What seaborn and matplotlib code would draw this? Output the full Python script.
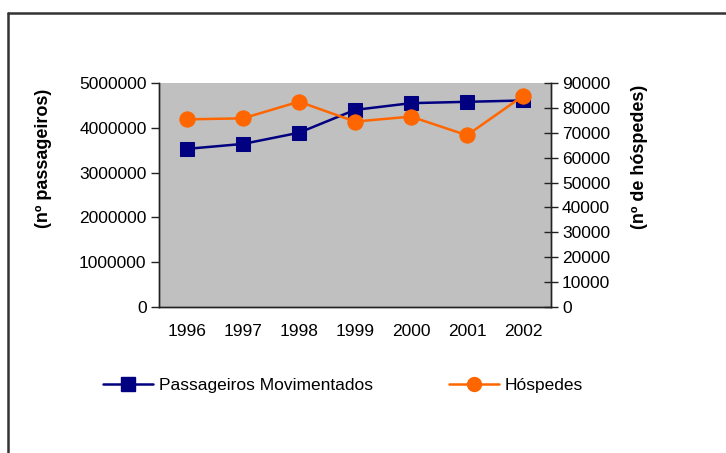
import numpy as np
import pandas as pd
import matplotlib
matplotlib.use('Agg')
import matplotlib.pyplot as plt
import seaborn as sns
from matplotlib.lines import Line2D

# dados
anos = ['1996', '1997', '1998', '1999', '2000', '2001', '2002']
passageiros = [3530000, 3640000, 3890000, 4400000, 4550000, 4580000, 4610000]
hospedes = [75400, 75800, 82500, 74500, 76500, 69000, 84800]

df = pd.DataFrame({'ano': anos, 'pos': np.arange(len(anos)),
                   'passageiros': passageiros, 'hospedes': hospedes})

sns.set_style('white')
plt.rcParams['font.family'] = ['Liberation Sans', 'DejaVu Sans']
plt.rcParams['text.color'] = 'black'
plt.rcParams['xtick.color'] = 'black'
plt.rcParams['ytick.color'] = 'black'
plt.rcParams['xtick.labelcolor'] = 'black'
plt.rcParams['ytick.labelcolor'] = 'black'

W, H = 726, 453
fig = plt.figure(figsize=(W / 100, H / 100), dpi=100)

# área do gráfico (pixels -> fração)
x0, x1, y0, y1 = 159, 551, 83, 307
ax = fig.add_axes([x0 / W, 1 - y1 / H, (x1 - x0) / W, (y1 - y0) / H])
ax.set_facecolor('#C0C0C0')

azul = '#000080'
laranja = '#FF6600'

sns.lineplot(data=df, x='pos', y='passageiros', ax=ax, color=azul, marker='s',
             markersize=10.5, markeredgecolor=azul, linewidth=1.8, legend=False)
ax2 = ax.twinx()
sns.lineplot(data=df, x='pos', y='hospedes', ax=ax2, color=laranja, marker='o',
             markersize=11, markeredgecolor=laranja, linewidth=1.8, legend=False)

fs = 12.5
ax.set_xlim(-0.5, len(anos) - 0.5)
ax.set_ylim(0, 5000000)
ax2.set_ylim(0, 90000)
ax.set_yticks(np.arange(0, 5000001, 1000000))
ax.set_yticklabels([f'{v:d}' for v in np.arange(0, 5000001, 1000000)], fontsize=fs)
ax2.set_yticks(np.arange(0, 90001, 10000))
ax2.set_yticklabels([f'{v:d}' for v in np.arange(0, 90001, 10000)], fontsize=fs)

# ticks entre categorias, rótulos no centro
ax.set_xticks(np.arange(-0.5, len(anos), 1.0))
ax.set_xticklabels([])
ax.set_xticks(np.arange(len(anos)), minor=True)
ax.set_xticklabels(anos, minor=True, fontsize=fs)
ax.tick_params(axis='x', which='major', direction='inout', length=12, width=1, color='#222222')
ax.tick_params(axis='x', which='minor', length=0, pad=12)
ax.tick_params(axis='y', which='major', direction='out', length=6, width=1, color='#222222', pad=3)
ax2.tick_params(axis='y', which='major', direction='inout', length=10, width=1, color='#222222', pad=3)

ax.set_xlabel('')
ax.set_ylabel('')
ax2.set_ylabel('')
for a in (ax, ax2):
    for s in a.spines.values():
        s.set_color('#222222')
        s.set_linewidth(1)
ax.spines['top'].set_visible(False)
ax2.spines['top'].set_visible(False)
ax2.patch.set_visible(False)

fig.text(43 / W, 1 - 158 / H, '(nº passageiros)', rotation=90, ha='center', va='center',
         fontsize=13, fontweight='bold')
fig.text(640 / W, 1 - 157 / H, '(nº de hóspedes)', rotation=90, ha='center', va='center',
         fontsize=13, fontweight='bold')

handles = [
    Line2D([], [], color=azul, marker='s', markersize=9.5, linewidth=1.8),
    Line2D([], [], color=laranja, marker='o', markersize=10, linewidth=1.8),
]
fig.legend(handles, ['Passageiros Movimentados', 'Hóspedes'], loc='center',
           bbox_to_anchor=(343 / W, 1 - 385 / H), ncol=2, frameon=False,
           fontsize=fs, handlelength=2.9, columnspacing=4.4, handletextpad=0.3)

# moldura do gráfico (topo e esquerda)
fig.add_artist(Line2D([8 / W, 1], [1 - 13 / H, 1 - 13 / H], color='#333333', linewidth=1.8))
fig.add_artist(Line2D([8 / W, 8 / W], [0, 1 - 13 / H], color='#333333', linewidth=1.8))

fig.savefig('out.png', dpi=100)
